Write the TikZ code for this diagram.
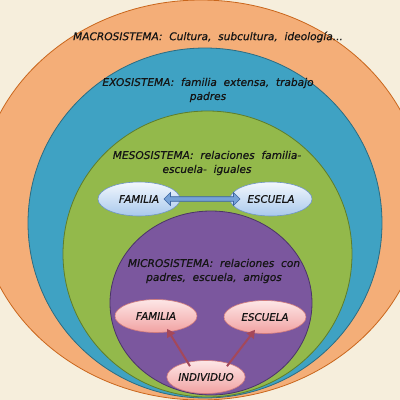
\documentclass[tikz,border=0pt]{standalone}
\usepackage{fontspec}
\setmainfont{DejaVu Sans}
\usetikzlibrary{shapes.geometric,shapes.arrows,arrows.meta,calc}
\definecolor{bg}{HTML}{F6EEDC}
\definecolor{orf}{HTML}{F4AE78}
\definecolor{ord}{HTML}{C9661C}
\definecolor{blf}{HTML}{3FA2C3}
\definecolor{bld}{HTML}{2C6C82}
\definecolor{grf}{HTML}{93B94B}
\definecolor{grd}{HTML}{5E7D2C}
\definecolor{puf}{HTML}{7B579E}
\definecolor{pud}{HTML}{4B3468}
\definecolor{lbA}{HTML}{F2F7FD}
\definecolor{lbB}{HTML}{A9C9EC}
\definecolor{lbD}{HTML}{6F95C6}
\definecolor{daf}{HTML}{76A2D8}
\definecolor{dad}{HTML}{3A64A0}
\definecolor{pkA}{HTML}{FDE6E6}
\definecolor{pkB}{HTML}{F1A2A2}
\definecolor{pkD}{HTML}{D27C7C}
\definecolor{arr}{HTML}{A4485A}
\definecolor{txt}{HTML}{151515}
\tikzset{
  lbl/.style={text=txt, font=\fontsize{10.6}{14}\selectfont\itshape\addfontfeature{FakeBold=0.5}, align=center, inner sep=0pt},
  blueov/.style={ellipse, draw=lbD, line width=0.6pt, top color=lbA, bottom color=lbB, minimum width=82pt, minimum height=34pt, inner sep=0pt, text=txt, font=\fontsize{10.3}{12}\selectfont\itshape\addfontfeature{FakeBold=0.5}},
  pinkov/.style={ellipse, draw=pkD, line width=0.6pt, top color=pkA, bottom color=pkB, minimum width=82pt, minimum height=33pt, inner sep=0pt, text=txt, font=\fontsize{10.3}{12}\selectfont\itshape\addfontfeature{FakeBold=0.5}},
  redarrow/.style={draw=arr, line width=2pt, -{Triangle[length=8pt,width=9pt]}}
}
\begin{document}
\begin{tikzpicture}[x=1pt,y=-1pt]
\useasboundingbox (0,0) rectangle (400,400);
\fill[bg] (0,0) rectangle (400,400);
\begin{scope}
\clip (0,0) rectangle (400,400);
\filldraw[fill=orf, draw=ord, line width=0.8pt] (201,200) ellipse [x radius=223, y radius=200];
\filldraw[fill=blf, draw=bld, line width=0.8pt] (205,223) ellipse [x radius=177, y radius=175];
\filldraw[fill=grf, draw=grd, line width=0.8pt] (207.5,254) ellipse [x radius=144.5, y radius=143];
\filldraw[fill=puf, draw=pud, line width=0.8pt] (211,303) ellipse [x radius=101, y radius=92];
\end{scope}
\node[lbl] (macro) at (208,37) {MACROSISTEMA:\ \ Cultura,\ \ subcultura,\ \ ideología...};
\node[lbl] (exo) at (208,90) {EXOSISTEMA:\ \ familia\ \ extensa,\ \ trabajo\\padres};
\node[lbl] (meso) at (207,163) {MESOSISTEMA:\ \ relaciones\ \ familia-\\escuela-\ \ iguales};
\node[lbl] (micro) at (214,271) {MICROSISTEMA:\ \ relaciones\ \ con\\padres,\ \ escuela,\ \ amigos};
\node[blueov] (fam1) at (139,199) {FAMILIA};
\node[blueov] (esc1) at (271,199) {ESCUELA};
\node[double arrow, draw=dad, fill=daf, line width=0.6pt, minimum width=13pt, minimum height=76pt, double arrow head extend=3pt, double arrow head indent=0pt, inner sep=1.3pt] (link) at ($(fam1.east)!0.5!(esc1.west)+(-3,0)$) {};
\node[pinkov] (fam2) at (156,316) {FAMILIA};
\node[pinkov] (esc2) at (265,317) {ESCUELA};
\node[pinkov, minimum width=78pt] (ind) at (206,377) {INDIVIDUO};
\draw[redarrow] ($(ind.north)+(-16,6)$) -- ($(fam2.south)+(11,-4)$);
\draw[redarrow] ($(ind.north)+(21,6)$) -- ($(esc2.south)+(-10,-4)$);
\end{tikzpicture}
\end{document}
